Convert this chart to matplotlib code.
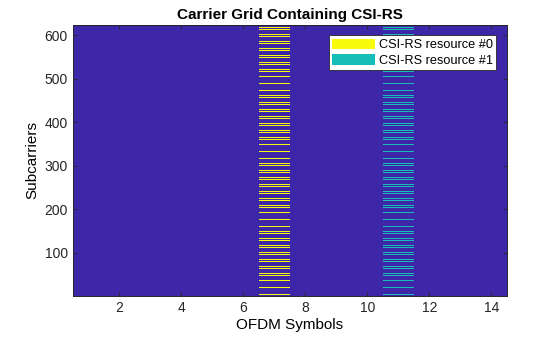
import numpy as np
import matplotlib
matplotlib.use("Agg")
import matplotlib.pyplot as plt
from matplotlib.colors import ListedColormap
from matplotlib.patches import Patch

# Grid size
n_subcarriers = 624
n_symbols = 14
# CSI-RS resources: OFDM symbol (1-based), first subcarrier, spacing (density 3)
resource_names = ["CSI-RS resource #0", "CSI-RS resource #1"]
resource_symbols = [7, 11]
resource_k0 = [3, 3]
resource_step = [4, 4]

colors = ["#3E26A8", "#F9FB0E", "#17BEB8"]

grid = np.zeros((n_subcarriers, n_symbols))
for i, (sym, k0, step) in enumerate(zip(resource_symbols, resource_k0, resource_step)):
    grid[k0::step, sym - 1] = i + 1

plt.rcParams['font.family'] = ['Liberation Sans', 'DejaVu Sans']
fig = plt.figure(figsize=(5.6, 3.37), dpi=100)
ax = fig.add_axes([0.130, 0.122, 0.775, 0.805])
ax.imshow(grid, cmap=ListedColormap(colors), vmin=0, vmax=2, origin='lower',
          aspect='auto', interpolation='nearest',
          extent=[0.5, n_symbols + 0.5, 0.5, n_subcarriers + 0.5])

ax.set_xticks(range(2, 15, 2))
ax.set_yticks(range(100, 601, 100))
ax.tick_params(direction='in', length=3, width=0.6, labelsize=10, colors='#262626',
               top=True, right=True)
for s in ax.spines.values():
    s.set_linewidth(0.7)
    s.set_color('#262626')

ax.set_title("Carrier Grid Containing CSI-RS", fontsize=11, fontweight='bold', pad=4)
ax.set_xlabel("OFDM Symbols", fontsize=11, labelpad=2)
ax.set_ylabel("Subcarriers", fontsize=11, labelpad=4)

handles = [Patch(facecolor=c, edgecolor='none') for c in colors[1:]]
leg = ax.legend(handles, resource_names, loc='upper right', fontsize=9.2,
                bbox_to_anchor=(0.976, 0.96), handlelength=3.4, handleheight=0.9,
                handletextpad=0.3, borderpad=0.25, labelspacing=0.2,
                fancybox=False, framealpha=1, borderaxespad=0)
leg.get_frame().set_edgecolor('#262626')
leg.get_frame().set_linewidth(0.6)

fig.savefig("out.png", dpi=100)
